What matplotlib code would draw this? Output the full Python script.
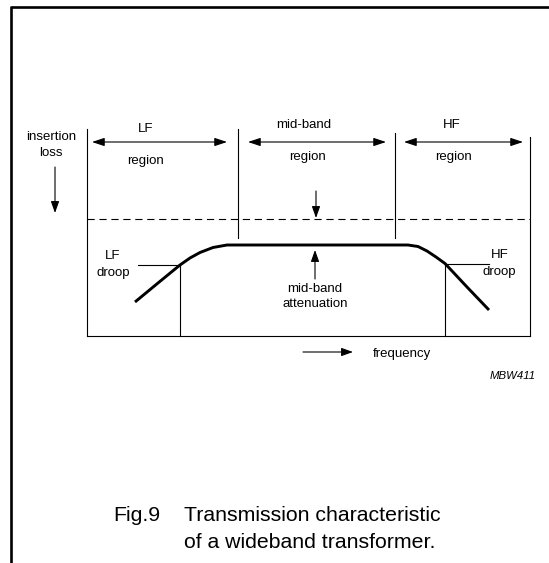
import matplotlib
matplotlib.use('Agg')
import matplotlib.pyplot as plt

plt.rcParams['font.family'] = ['Liberation Sans', 'DejaVu Sans']
plt.rcParams['lines.scale_dashes'] = False

# diagram coordinates (pixel-like units, y grows downward)
region_edges = [87, 238, 395, 530]
region_tops = [129, 129, 133, 137]
region_names = ['LF', 'mid-band', 'HF']
name_x = [146, 304, 452]
name_base = [131.5, 128.5, 127.5]
region_x = [146, 308, 453]
region_base = [164, 160, 160]
span_arrows = [(92, 227), (248, 386), (404, 523)]
arrow_y = 142
axis_bottom = 336
divider_bottom = 238
dashed_y = 219

# transmission curve (insertion loss vs frequency)
curve_x = [135, 158, 180, 190, 200, 213, 227, 408, 418, 427, 436, 445, 467, 489]
curve_y = [302, 283, 265, 258, 252.5, 247.5, 245, 245, 246.5, 251, 257, 263.5, 287, 310]

droop_x = [180, 445]
droop_y = [265, 264]
droop_tick_end = [138, 489]

fig = plt.figure(figsize=(5.49, 5.63), dpi=100)
ax = fig.add_axes([0, 0, 1, 1])
ax.set_xlim(0, 549)
ax.set_ylim(563, 0)
ax.axis('off')

# page border (top and left)
ax.plot([10.5, 549], [7, 7], color='black', lw=1.9, solid_capstyle='butt')
ax.plot([10.5, 10.5], [6, 563], color='black', lw=1.9, solid_capstyle='butt')

thin = 0.8
# axes frame: left, right, bottom
ax.plot([region_edges[0], region_edges[0]], [region_tops[0], axis_bottom], color='black', lw=thin)
ax.plot([region_edges[3], region_edges[3]], [region_tops[3], axis_bottom], color='black', lw=thin)
ax.plot([region_edges[0], region_edges[3]], [axis_bottom, axis_bottom], color='black', lw=thin)
# region dividers
for i in (1, 2):
    ax.plot([region_edges[i], region_edges[i]], [region_tops[i], divider_bottom], color='black', lw=thin)
# dashed reference line
ax.plot([region_edges[0], region_edges[3]], [dashed_y, dashed_y], color='black', lw=thin,
        dashes=(5.2, 3.4))

arrow_kw = dict(color='black', lw=thin, shrinkA=0, shrinkB=0, mutation_scale=10)
fs = 9.5
for k in range(3):
    a, b = span_arrows[k]
    ax.annotate('', xy=(b, arrow_y), xytext=(a, arrow_y),
                arrowprops=dict(arrowstyle='<|-|>,head_length=0.75,head_width=0.25', **arrow_kw))
    ax.text(name_x[k], name_base[k], region_names[k], ha='center', va='baseline', fontsize=fs)
    ax.text(region_x[k], region_base[k], 'region', ha='center', va='baseline', fontsize=fs)

# insertion loss label and arrow
ax.text(51, 140, 'insertion', ha='center', va='baseline', fontsize=fs)
ax.text(51, 156, 'loss', ha='center', va='baseline', fontsize=fs)
ax.annotate('', xy=(55, 213), xytext=(55, 167),
            arrowprops=dict(arrowstyle='-|>,head_length=0.7,head_width=0.25', **arrow_kw))

# mid-band attenuation arrows
ax.annotate('', xy=(316, 218), xytext=(316, 191),
            arrowprops=dict(arrowstyle='-|>,head_length=0.7,head_width=0.25', **arrow_kw))
ax.annotate('', xy=(315, 250), xytext=(315, 279),
            arrowprops=dict(arrowstyle='-|>,head_length=0.7,head_width=0.25', **arrow_kw))
ax.text(315, 292, 'mid-band', ha='center', va='baseline', fontsize=fs)
ax.text(315, 307, 'attenuation', ha='center', va='baseline', fontsize=fs)

# curve
ax.plot(curve_x, curve_y, color='black', lw=2.1, solid_joinstyle='round', solid_capstyle='butt')

# droop markers
for k in range(2):
    ax.plot([droop_x[k], droop_x[k]], [droop_y[k], axis_bottom], color='black', lw=thin)
    ax.plot([droop_tick_end[k], droop_x[k]], [droop_y[k], droop_y[k]], color='black', lw=thin)
ax.text(113, 259, 'LF', ha='center', va='baseline', fontsize=fs)
ax.text(113, 276, 'droop', ha='center', va='baseline', fontsize=fs)
ax.text(500, 258.5, 'HF', ha='center', va='baseline', fontsize=fs)
ax.text(499, 274.5, 'droop', ha='center', va='baseline', fontsize=fs)

# frequency arrow
ax.annotate('', xy=(353, 352), xytext=(303, 352),
            arrowprops=dict(arrowstyle='-|>,head_length=0.7,head_width=0.25', **arrow_kw))
ax.text(373, 356.5, 'frequency', ha='left', va='baseline', fontsize=fs)

ax.text(536, 379, 'MBW411', ha='right', va='baseline', fontsize=8.2, style='italic')

# caption
ax.text(113, 521, 'Fig.9', ha='left', va='baseline', fontsize=15.3)
ax.text(184.5, 521, 'Transmission characteristic', ha='left', va='baseline', fontsize=15.3)
ax.text(184.5, 548, 'of a wideband transformer.', ha='left', va='baseline', fontsize=15.3)

fig.savefig('out.png', dpi=100)
